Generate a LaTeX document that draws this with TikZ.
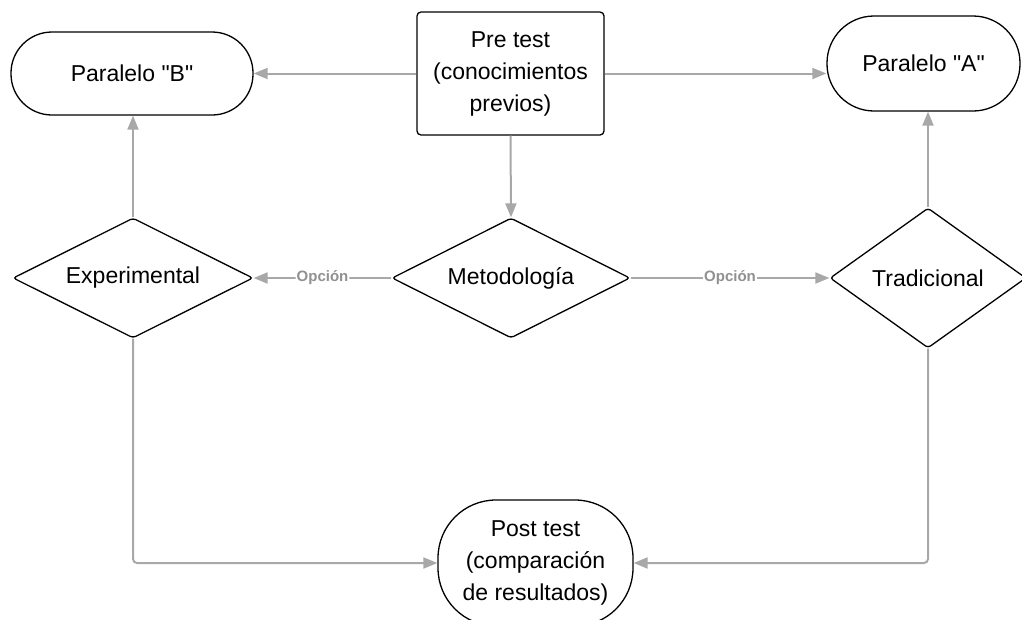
\documentclass[tikz,border=0pt]{standalone}
\usepackage{fontspec}
\setmainfont{Liberation Sans}[Ligatures=TeXOff]
\usetikzlibrary{shapes.geometric,arrows.meta}
\definecolor{conn}{RGB}{168,168,168}
\definecolor{lblc}{RGB}{145,145,145}
\tikzset{
  base/.style={draw=black, line width=1.3pt, fill=white, align=center, inner sep=0pt,
    font=\fontsize{23}{32}\selectfont},
  stadium/.style={base, rounded corners=#1},
  pbox/.style={base, rounded corners=4pt},
  dia/.style={base, diamond, shape aspect=2, rounded corners=3pt},
  conn/.style={draw=conn, line width=2pt, -{Triangle[length=14pt,width=11pt]}, rounded corners=4pt},
  lbl/.style={fill=white, text=lblc, font={\bfseries\fontsize{15}{15}\selectfont}, inner sep=1pt}
}
\begin{document}
\begin{tikzpicture}[x=1pt,y=-1pt]
\useasboundingbox (0,0) rectangle (1022,619);
\clip (0,0) rectangle (1022,619);
\node[pbox, minimum width=187pt, minimum height=123pt] (pre) at (510.5,73.5) {Pre test\\(conocimientos\\previos)};
\node[stadium=41pt, minimum width=242pt, minimum height=83pt] (pb) at (132,73.5) {Paralelo "B"};
\node[stadium=47pt, minimum width=193pt, minimum height=95pt] (pa) at (923.5,63.5) {Paralelo "A"};
\node[dia, minimum width=240pt, minimum height=120pt] (exp) at (133,278) {Experimental};
\node[dia, minimum width=238pt, minimum height=120pt] (met) at (511,278) {Metodología};
\node[dia, minimum width=196pt, minimum height=140pt] (tra) at (928,278) {Tradicional};
\node[stadium=58pt, minimum width=195pt, minimum height=126pt] (post) at (535.5,563) {Post test\\(comparación\\de resultados)};

\draw[conn] (pre.west) -- (pre.west -| pb.east);
\draw[conn] (pre.east) -- (pre.east -| pa.west);
\draw[conn] (pre.south) -- (met.north);
\draw[conn] (met.west) -- node[lbl] {Opción} (exp.east);
\draw[conn] (met.east) -- node[lbl] {Opción} (tra.west);
\draw[conn] (exp.north) -- (pb.south -| exp.north);
\draw[conn] (tra.north) -- (pa.south -| tra.north);
\draw[conn] (exp.south) |- (post.west);
\draw[conn] (tra.south) |- (post.east);
\end{tikzpicture}
\end{document}
